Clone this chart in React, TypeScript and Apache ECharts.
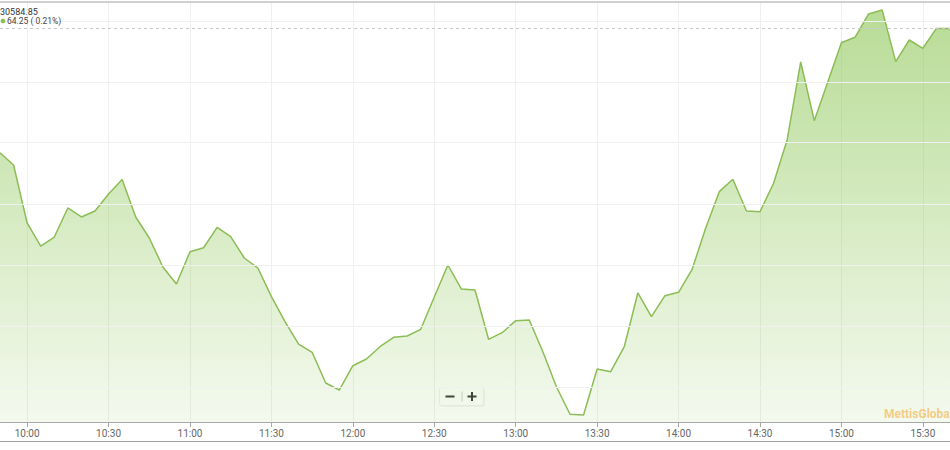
import React, { useEffect, useRef } from "react";
import * as echarts from "echarts";

const times: string[] = [
  "09:50", "09:55",
  "10:00", "10:05", "10:10", "10:15", "10:20", "10:25", "10:30", "10:35", "10:40", "10:45", "10:50", "10:55",
  "11:00", "11:05", "11:10", "11:15", "11:20", "11:25", "11:30", "11:35", "11:40", "11:45", "11:50", "11:55",
  "12:00", "12:05", "12:10", "12:15", "12:20", "12:25", "12:30", "12:35", "12:40", "12:45", "12:50", "12:55",
  "13:00", "13:05", "13:10", "13:15", "13:20", "13:25", "13:30", "13:35", "13:40", "13:45", "13:50", "13:55",
  "14:00", "14:05", "14:10", "14:15", "14:20", "14:25", "14:30", "14:35", "14:40", "14:45", "14:50", "14:55",
  "15:00", "15:05", "15:10", "15:15", "15:20", "15:25", "15:30", "15:35", "15:40",
];

const indexValues: number[] = [
  30564.56, 30562.56, 30553.09, 30549.33, 30550.8, 30555.54, 30554.07, 30555.05, 30557.82, 30560.19,
  30554.07, 30550.64, 30545.9, 30543.13, 30548.4, 30549.05, 30552.38, 30550.85, 30547.37, 30545.74,
  30541.06, 30536.97, 30533.33, 30531.98, 30526.97, 30525.82, 30529.79, 30530.88, 30532.89, 30534.43,
  30534.64, 30535.73, 30541.01, 30546.23, 30542.31, 30542.15, 30534.1, 30535.18, 30537.14, 30537.25,
  30532.08, 30526.36, 30521.86, 30521.74, 30529.25, 30528.81, 30532.89, 30541.66, 30537.79, 30541.22,
  30541.77, 30545.53, 30552.27, 30558.2, 30560.22, 30555.05, 30554.93, 30559.57, 30566.64, 30579.37,
  30569.79, 30576.15, 30582.52, 30583.4, 30587.21, 30587.86, 30579.42, 30582.96, 30581.61, 30584.85,
  30584.85,
];

const gridValues: number[] = [30526.3, 30536.3, 30546.2, 30556.2, 30566.2, 30576.1, 30586.1];

const lastValue = 30584.85;
const lastValueText = "30584.85";
const changeText = "64.25 ( 0.21%)";
const watermark = "MettisGlobal";
const yMin = 30520.6;
const yMax = 30589.0;

export default function App() {
  const ref = useRef<HTMLDivElement>(null);

  useEffect(() => {
    if (!ref.current) return;
    const chart = echarts.init(ref.current, undefined, { renderer: "svg" });
    const tickFn = (i: number) => i % 6 === 2;
    chart.setOption({
      animation: false,
      backgroundColor: "#ffffff",
      grid: { left: -1.2, right: -1.2, top: 3, bottom: 28, containLabel: false },
      xAxis: {
        type: "category",
        data: times,
        boundaryGap: false,
        axisLine: { show: true, lineStyle: { color: "#a8a8a8", width: 1 } },
        axisTick: { show: true, interval: tickFn, length: 5, lineStyle: { color: "#a8a8a8" } },
        axisLabel: {
          interval: tickFn,
          color: "#666666",
          fontSize: 10,
          fontFamily: "Roboto",
          margin: 6,
        },
        splitLine: { show: true, interval: tickFn, lineStyle: { color: "#efefef", width: 1 } },
      },
      yAxis: {
        type: "value",
        min: yMin,
        max: yMax,
        show: false,
        splitLine: { show: false },
      },
      graphic: [
        { type: "line", shape: { x1: 0, y1: 2, x2: 950, y2: 2 }, style: { stroke: "#a0a0a0", lineWidth: 1 }, z: 10 },
        { type: "line", shape: { x1: 0, y1: 441.5, x2: 950, y2: 441.5 }, style: { stroke: "#a0a0a0", lineWidth: 1 }, z: 10 },
        {
          type: "text",
          left: 0,
          top: 7,
          style: { text: lastValueText, fontSize: 9, fill: "#333333", fontFamily: "Roboto" },
          z: 10,
        },
        { type: "circle", shape: { cx: 3, cy: 21, r: 2.4 }, style: { fill: "#8cc152" }, z: 10 },
        {
          type: "text",
          left: 7,
          top: 16,
          style: { text: changeText, fontSize: 8.5, fill: "#444444", fontFamily: "Roboto" },
          z: 10,
        },
        {
          type: "group",
          left: 439,
          top: 387,
          z: 10,
          children: [
            { type: "rect", shape: { x: 1, y: 1, width: 44, height: 18, r: 2 }, style: { fill: "rgba(0,0,0,0.08)" } },
            { type: "rect", shape: { x: 0, y: 0, width: 44, height: 18, r: 2 }, style: { fill: "#ffffff", stroke: "#f0f0f0" } },
            { type: "line", shape: { x1: 22.5, y1: 4, x2: 22.5, y2: 14 }, style: { stroke: "#cccccc", lineWidth: 1 } },
            { type: "rect", shape: { x: 6, y: 8, width: 9, height: 2 }, style: { fill: "#333333" } },
            { type: "rect", shape: { x: 28, y: 8, width: 9, height: 2 }, style: { fill: "#333333" } },
            { type: "rect", shape: { x: 31.5, y: 4.5, width: 2, height: 9 }, style: { fill: "#333333" } },
          ],
        },
        {
          type: "text",
          left: 884,
          top: 408,
          style: {
            text: watermark,
            fontSize: 12,
            fontWeight: "bold",
            fill: "rgba(243,180,70,0.65)",
            fontFamily: "Roboto",
          },
          z: 10,
        },
      ],
      series: [
        {
          type: "line",
          z: 1,
          data: indexValues,
          symbol: "none",
          lineStyle: { opacity: 0 },
          silent: true,
          markLine: {
            silent: true,
            symbol: ["none", "none"],
            label: { show: false },
            data: [
              ...gridValues.map((v) => ({ yAxis: v, lineStyle: { color: "#f0f0f0", width: 1, type: "solid" } })),
              { yAxis: lastValue, lineStyle: { color: "#c8c8c8", width: 1, type: [3, 3] } },
            ],
          },
        },
        {
          type: "line",
          z: 2,
          data: indexValues,
          symbol: "none",
          smooth: false,
          lineStyle: { color: "#8cbd55", width: 1.5 },
          areaStyle: {
            origin: "start",
            color: new echarts.graphic.LinearGradient(0, 0, 0, 1, [
              { offset: 0, color: "rgba(140,198,85,0.88)" },
              { offset: 1, color: "rgba(140,198,85,0.14)" },
            ]),
          },
        },
      ],
    });
    return () => chart.dispose();
  }, []);

  return (
    <div
      ref={ref}
      style={{ position: "fixed", left: 0, top: 0, width: 950, height: 450, background: "#fff" }}
    />
  );
}
